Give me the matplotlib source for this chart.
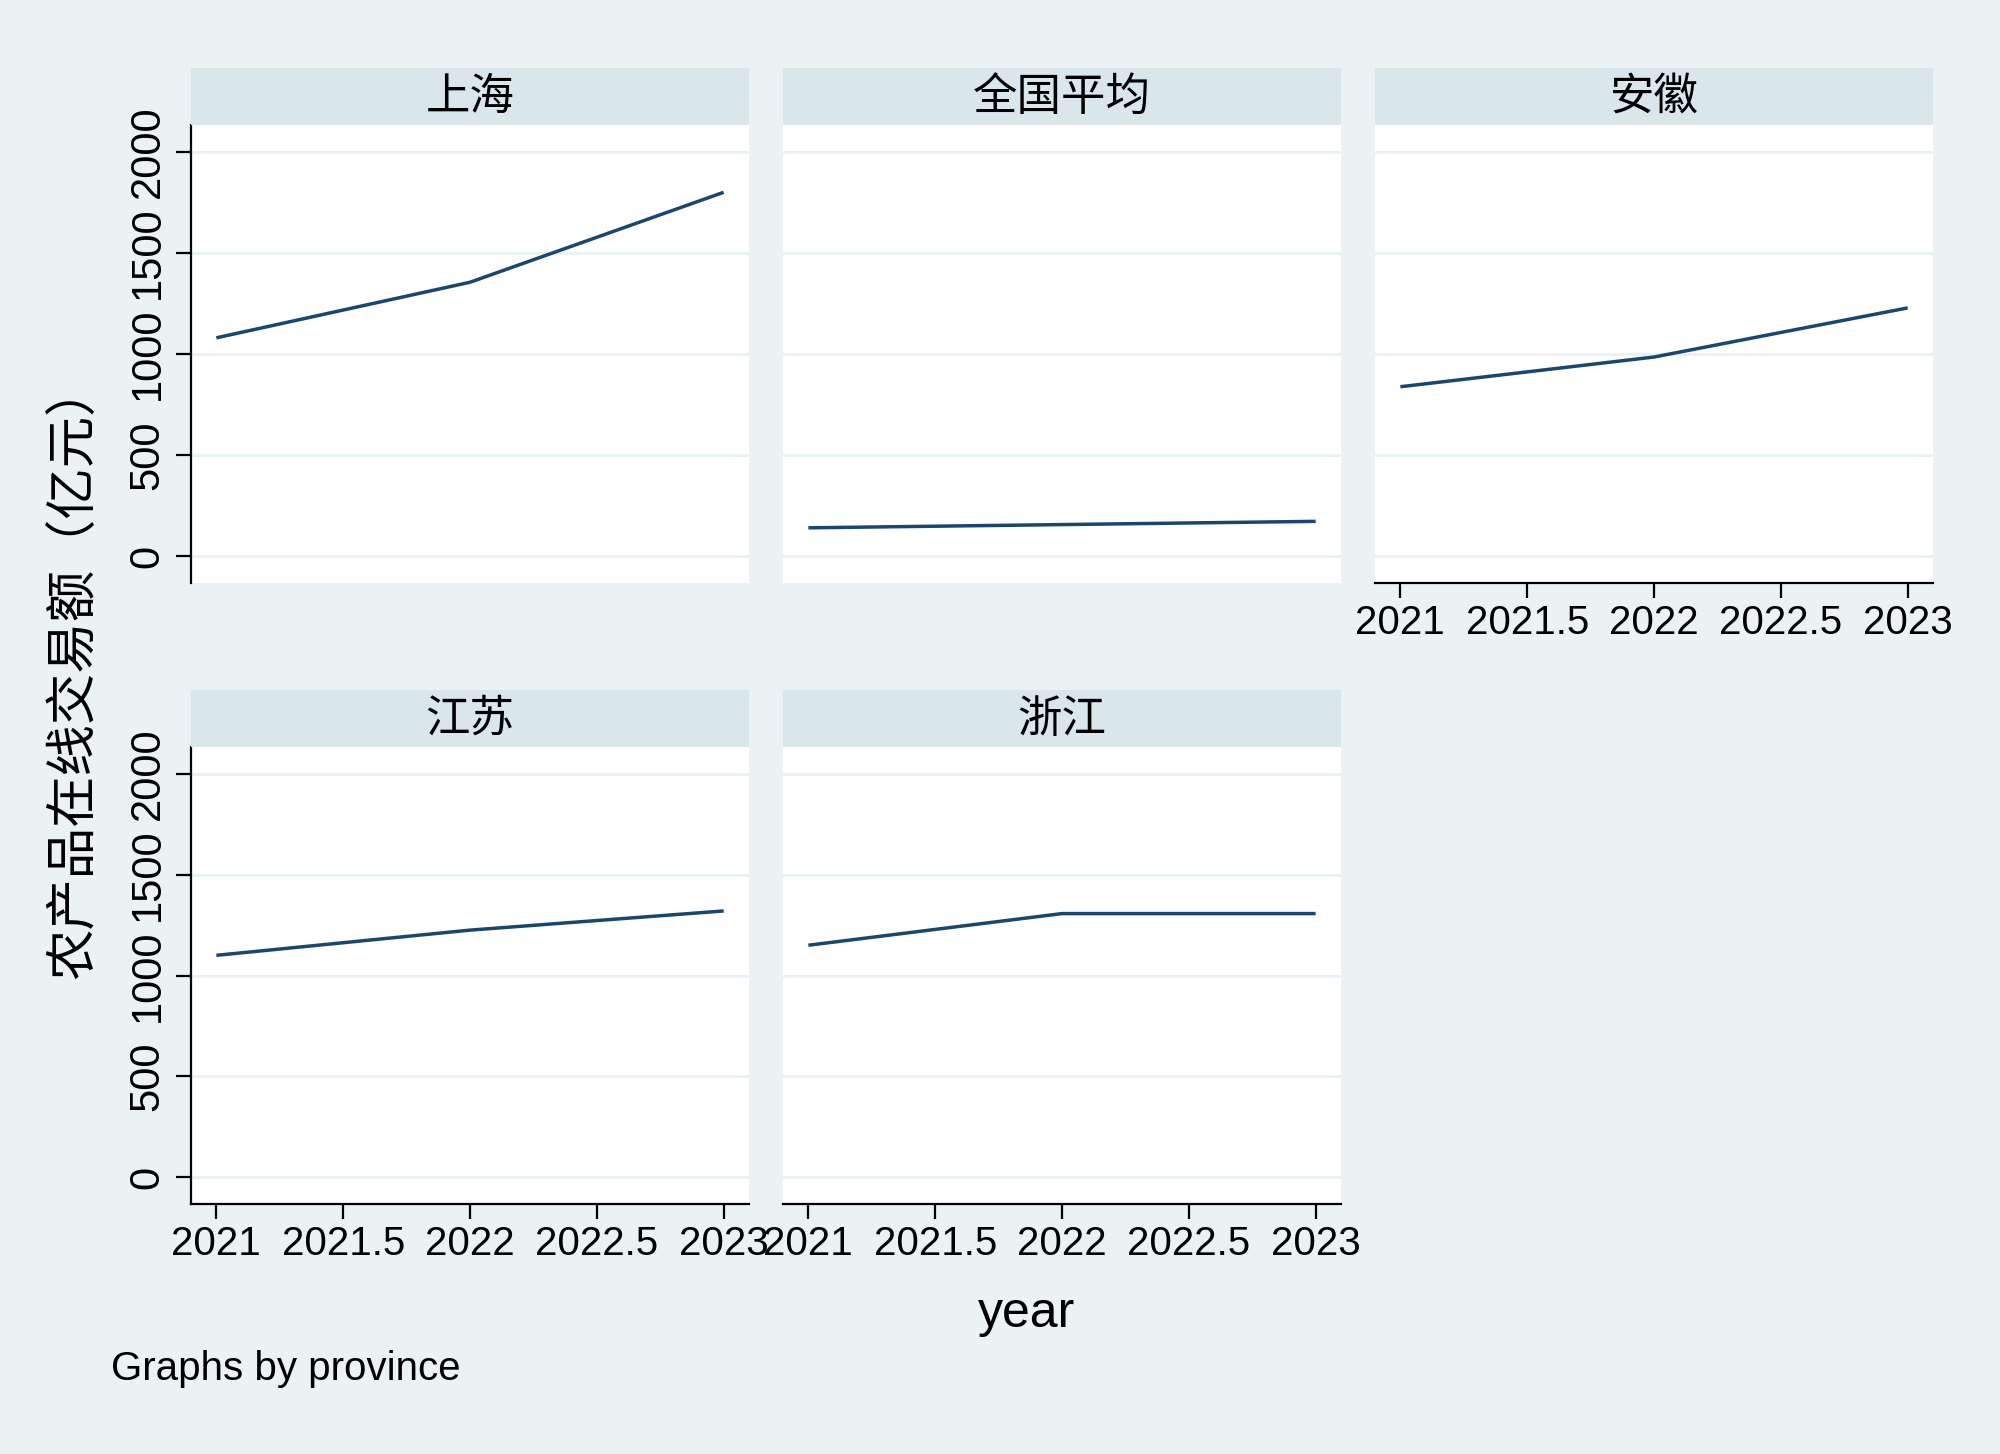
import matplotlib
matplotlib.use("Agg")
import matplotlib.pyplot as plt

plt.rcParams['font.family'] = ['Liberation Sans', 'Noto Sans CJK SC', 'DejaVu Sans']

# datos por provincia
provinces = ["上海", "全国平均", "安徽", "江苏", "浙江"]
years = [2021, 2022, 2023]
v_shanghai = [1080, 1355, 1800]
v_national = [140, 156, 172]
v_anhui = [838, 985, 1228]
v_jiangsu = [1100, 1225, 1320]
v_zhejiang = [1150, 1307, 1307]
values = [v_shanghai, v_national, v_anhui, v_jiangsu, v_zhejiang]

y_ticks = [0, 500, 1000, 1500, 2000]
x_ticks = [2021, 2021.5, 2022, 2022.5, 2023]
x_ticklabels = ["2021", "2021.5", "2022", "2022.5", "2023"]

bg = "#EAF2F3"
strip_col = "#D9E6EB"
line_col = "#1A476F"

W, H = 2000, 1454
fig = plt.figure(figsize=(20, 14.54), dpi=100, facecolor=bg)

col_left = [191, 783, 1375]
pw = 558
rows = [(68, 125, 583), (690, 747, 1204)]  # strip top, strip bottom, plot bottom

for i, (name, vals) in enumerate(zip(provinces, values)):
    r, c = divmod(i, 3)
    st, sb, pb = rows[r]
    x0 = col_left[c]
    ax = fig.add_axes([x0 / W, 1 - pb / H, pw / W, (pb - sb) / H])
    sax = fig.add_axes([x0 / W, 1 - sb / H, pw / W, (sb - st) / H])
    sax.set_facecolor(strip_col)
    sax.set_xticks([]); sax.set_yticks([])
    for s in sax.spines.values():
        s.set_visible(False)
    sax.text(0.5, 0.5, name, ha="center", va="center", fontsize=32,
             family=['Noto Sans CJK SC', 'DejaVu Sans'], transform=sax.transAxes)

    ax.set_facecolor("white")
    ax.plot(years, vals, color=line_col, lw=2.5, solid_capstyle="butt")
    ax.set_xlim(2020.9, 2023.1)
    ax.set_ylim(-133, 2133)
    ax.set_yticks(y_ticks)
    ax.yaxis.grid(True, color=bg, lw=2.2)
    ax.set_axisbelow(True)
    for s in ax.spines.values():
        s.set_visible(False)

    show_y = (c == 0)
    show_x = (r == 1) or (i == 2)
    if show_y:
        ax.spines["left"].set_visible(True)
        ax.spines["left"].set_linewidth(1.6)
        ax.set_yticklabels([str(t) for t in y_ticks], rotation=90, va="center", fontsize=30)
        ax.tick_params(axis="y", length=11, width=1.6, pad=6)
    else:
        ax.tick_params(axis="y", length=0, labelleft=False)
    if show_x:
        ax.spines["bottom"].set_visible(True)
        ax.spines["bottom"].set_linewidth(1.6)
        ax.set_xticks(x_ticks)
        ax.set_xticklabels(x_ticklabels, fontsize=29)
        ax.tick_params(axis="x", length=11, width=1.6, pad=4)
    else:
        ax.set_xticks([])

fig.text(74 / W, 1 - 671 / H, "农产品在线交易额（亿元）", rotation=90, ha="center", va="center",
         fontsize=37, family=['Noto Sans CJK SC', 'DejaVu Sans'])
fig.text(1027 / W, 1 - 1314 / H, "year", ha="center", va="center", fontsize=36)
fig.text(111 / W, 1 - 1369 / H, "Graphs by province", ha="left", va="center", fontsize=29)

fig.savefig("out.png", dpi=100, facecolor=bg)
